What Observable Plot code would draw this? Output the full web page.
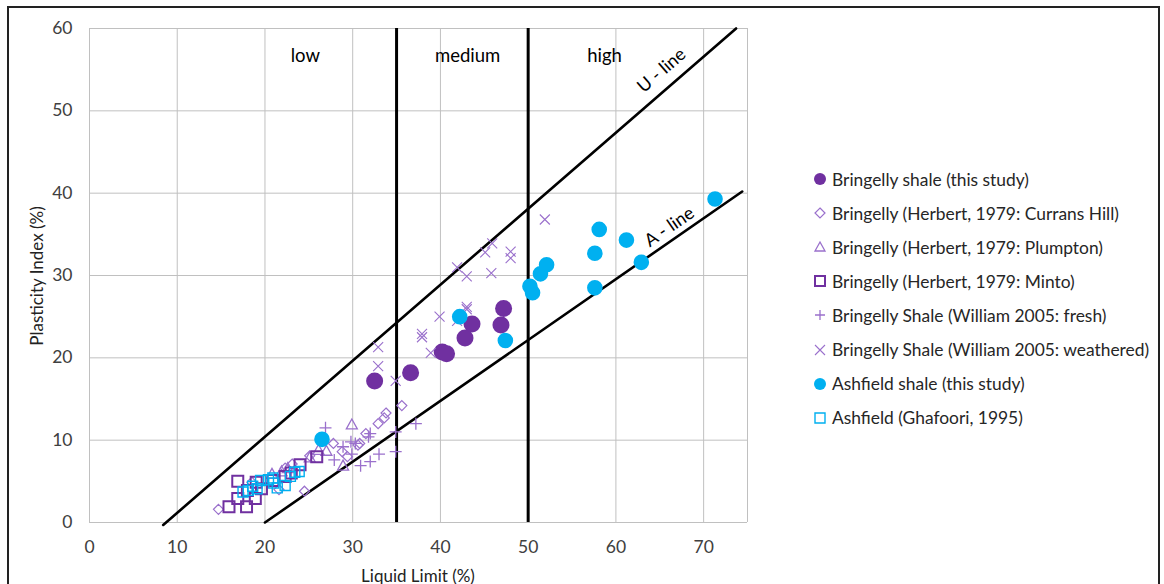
<!DOCTYPE html>
<html>
<head>
<meta charset="utf-8">
<script src="https://cdn.jsdelivr.net/npm/d3@7"></script>
<script src="https://cdn.jsdelivr.net/npm/@observablehq/plot@0.6"></script>
<style>
  html, body { margin: 0; padding: 0; background: #fff; }
  #wrap { position: relative; width: 1164px; height: 584px; overflow: hidden; font-family: Lato, "Open Sans", sans-serif; }
  #border { position: absolute; left: 7px; top: 6px; width: 1153px; height: 600px; border: 2px solid #222; box-sizing: border-box; }
  #chart { position: absolute; left: 0; top: 0; }
  .axlabel { position: absolute; font-size: 17px; color: #222; white-space: nowrap; }
  #xlabel { left: 418px; top: 575px; transform: translate(-50%, -50%); }
  #ylabel { left: 36px; top: 276px; transform: translate(-50%, -50%) rotate(-90deg); }
  #legend { position: absolute; left: 810px; top: 162px; }
  .item { display: flex; align-items: center; height: 34.1px; font-size: 17.4px; color: #262626; white-space: nowrap; }
  .item svg { width: 20px; height: 20px; margin-right: 2px; flex: none; }
</style>
</head>
<body>
<div id="wrap">
  <div id="chart"></div>
  <div id="border"></div>
  <div class="axlabel" id="xlabel">Liquid Limit (%)</div>
  <div class="axlabel" id="ylabel">Plasticity Index (%)</div>
  <div id="legend"></div>
</div>
<script>
// ---------- data ----------
const xTicks = [0, 10, 20, 30, 40, 50, 60, 70];
const yTicks = [0, 10, 20, 30, 40, 50, 60];

const bringellyShale = [[32.5,17.2],[36.6,18.2],[40.2,20.7],[40.7,20.5],[42.8,22.4],[43.6,24.1],[46.9,24.0],[47.2,26.0]];
const curransHill = [[14.7,1.6],[18.5,4.9],[21.6,4.0],[22.3,6.6],[23.1,7.1],[24.5,3.8],[25.1,8.1],[27.8,9.6],[28.8,8.6],[29.4,8.0],[30.6,9.4],[30.8,9.6],[31.5,10.8],[32.9,12.0],[33.6,12.7],[33.8,13.3],[35.6,14.2]];
const plumpton = [[20.8,5.9],[21.9,6.2],[22.6,6.6],[25.1,7.9],[26.1,8.8],[27.0,8.7],[28.9,6.9],[29.9,11.9]];
const minto = [[15.9,1.9],[16.9,2.9],[16.9,5.0],[17.9,1.9],[18.0,3.9],[18.9,2.9],[19.0,4.9],[19.6,4.1],[20.9,5.1],[22.3,5.6],[23.0,6.0],[24.0,7.0],[25.9,8.0]];
const williamFresh = [[26.9,11.5],[27.9,7.6],[28.9,9.2],[29.8,9.8],[29.9,8.3],[30.3,9.6],[30.9,6.9],[31.8,10.4],[32.0,7.4],[32.0,10.8],[33.0,8.3],[34.9,8.6],[34.9,11.0],[37.2,12.0]];
const williamWeathered = [[32.9,21.3],[32.9,19.0],[34.9,17.2],[37.9,22.9],[37.9,22.5],[38.9,20.6],[39.9,25.0],[41.9,31.0],[41.9,24.5],[43.0,29.9],[43.0,26.2],[43.0,25.9],[45.1,32.8],[45.9,33.9],[45.8,30.3],[48.0,32.9],[48.0,32.1],[51.9,36.8]];
const ashfieldShale = [[26.5,10.1],[42.2,25.0],[47.4,22.1],[50.2,28.7],[50.5,27.9],[51.4,30.2],[52.1,31.3],[57.6,32.7],[58.1,35.6],[57.6,28.5],[61.2,34.3],[62.9,31.6],[71.3,39.3]];
const ghafoori = [[17.5,3.7],[18.1,3.9],[18.6,4.4],[19.1,4.1],[19.5,5.1],[20.4,5.2],[20.9,5.4],[21.0,4.8],[21.4,4.2],[22.3,4.5],[22.9,5.6],[23.4,6.1],[23.9,6.2]];

const uLine = [[8.4, -0.3], [73.7, 60]];
const aLine = [[20, 0], [74.4, 40.2]];
const boundaries = [35, 50];
const zoneLabels = [{x: 24.6, y: 56.7, text: "low"}, {x: 43.1, y: 56.7, text: "medium"}, {x: 58.7, y: 56.7, text: "high"}];
const lineLabels = [{x: 65.2, y: 54.9, text: "U - line", angle: -41}, {x: 66.1, y: 35.9, text: "A - line", angle: -34.5}];

// ---------- symbols ----------
const R = s => Math.sqrt(s / Math.PI);
const symbols = {
  circle: {draw(c, s) { const r = R(s); c.moveTo(r, 0); c.arc(0, 0, r, 0, 2 * Math.PI); }},
  diamond: {draw(c, s) { const r = R(s); c.moveTo(0, -r); c.lineTo(r, 0); c.lineTo(0, r); c.lineTo(-r, 0); c.closePath(); }},
  triangle: {draw(c, s) { const r = R(s); c.moveTo(0, -r); c.lineTo(r, 0.8 * r); c.lineTo(-r, 0.8 * r); c.closePath(); }},
  square: {draw(c, s) { const r = R(s); c.moveTo(-r, -r); c.lineTo(r, -r); c.lineTo(r, r); c.lineTo(-r, r); c.closePath(); }},
  plus: {draw(c, s) { const r = R(s); c.moveTo(-r, 0); c.lineTo(r, 0); c.moveTo(0, -r); c.lineTo(0, r); }},
  times: {draw(c, s) { const r = R(s); c.moveTo(-r, -r); c.lineTo(r, r); c.moveTo(r, -r); c.lineTo(-r, r); }}
};

const PURPLE = "#7030a0", LIGHT = "#9a70cc", CYAN = "#00b0f0";
const series = [
  {name: "Bringelly shale (this study)", data: bringellyShale, symbol: "circle", r: 8.5, fill: PURPLE, stroke: "none", sw: 0},
  {name: "Bringelly (Herbert, 1979: Currans Hill)", data: curransHill, symbol: "diamond", r: 5, fill: "none", stroke: LIGHT, sw: 1.2},
  {name: "Bringelly (Herbert, 1979: Plumpton)", data: plumpton, symbol: "triangle", r: 5.5, fill: "none", stroke: LIGHT, sw: 1.3},
  {name: "Bringelly (Herbert, 1979: Minto)", data: minto, symbol: "square", r: 5.5, fill: "none", stroke: PURPLE, sw: 2},
  {name: "Bringelly Shale (William 2005: fresh)", data: williamFresh, symbol: "plus", r: 6, fill: "none", stroke: LIGHT, sw: 1.3},
  {name: "Bringelly Shale (William 2005: weathered)", data: williamWeathered, symbol: "times", r: 5, fill: "none", stroke: LIGHT, sw: 1.1},
  {name: "Ashfield shale (this study)", data: ashfieldShale, symbol: "circle", r: 7.8, fill: CYAN, stroke: "none", sw: 0},
  {name: "Ashfield (Ghafoori, 1995)", data: ghafoori, symbol: "square", r: 5, fill: "none", stroke: CYAN, sw: 1.4}
];

// ---------- chart ----------
const GRID = "#c0c0c0";
const marks = [
  Plot.ruleX(xTicks, {stroke: GRID, strokeWidth: 1}),
  Plot.ruleX([75], {stroke: GRID, strokeWidth: 1}),
  Plot.ruleY(yTicks, {stroke: GRID, strokeWidth: 1}),
  Plot.ruleX(boundaries, {stroke: "#000", strokeWidth: 3}),
  Plot.line(uLine, {x: d => d[0], y: d => d[1], stroke: "#000", strokeWidth: 2.6}),
  Plot.line(aLine, {x: d => d[0], y: d => d[1], stroke: "#000", strokeWidth: 2.6}),
  Plot.text(zoneLabels, {x: "x", y: "y", text: "text", fontSize: 18.5, fill: "#000"}),
  Plot.text(lineLabels, {x: "x", y: "y", text: "text", rotate: "angle", fontSize: 18, fill: "#000"}),
  ...series.map(s => Plot.dot(s.data, {
    x: d => d[0], y: d => d[1], r: s.r, symbol: symbols[s.symbol],
    fill: s.fill, stroke: s.stroke, strokeWidth: s.sw
  })),
  Plot.axisX(xTicks, {tickSize: 0, tickPadding: 18, fontSize: 17.5, fill: "#404040", label: null}),
  Plot.axisY(yTicks, {tickSize: 0, tickPadding: 17, fontSize: 17.5, fill: "#404040", label: null})
];

const chart = Plot.plot({
  width: 1164, height: 584,
  marginLeft: 89, marginRight: 417, marginTop: 28, marginBottom: 62,
  x: {domain: [0, 75]},
  y: {domain: [0, 60]},
  style: {fontFamily: "Lato, 'Open Sans', sans-serif", background: "transparent", overflow: "visible"},
  marks
});
document.getElementById("chart").appendChild(chart);

// ---------- legend ----------
const legend = d3.select("#legend");
for (const s of series) {
  const item = legend.append("div").attr("class", "item");
  const svg = item.append("svg").attr("viewBox", "-10 -10 20 20");
  const lr = s.symbol === "circle" ? 6 : Math.min(s.r, 5);
  svg.append("path")
    .attr("d", d3.symbol(symbols[s.symbol], Math.PI * lr * lr)())
    .attr("fill", s.fill).attr("stroke", s.stroke).attr("stroke-width", s.sw);
  item.append("span").text(s.name);
}
</script>
</body>
</html>
